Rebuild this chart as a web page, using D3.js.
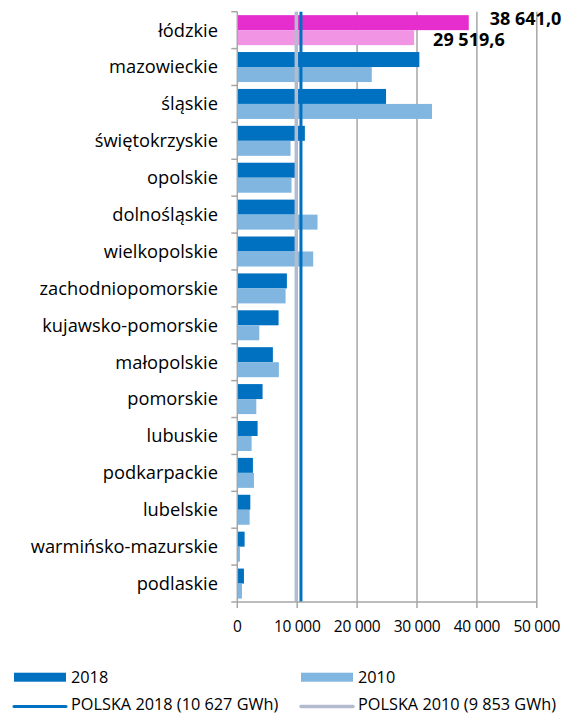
<!DOCTYPE html>
<html><head><meta charset="utf-8">
<script src="https://cdn.jsdelivr.net/npm/d3@7"></script>
<style>html,body{margin:0;padding:0;background:#fff;}svg{display:block;}</style>
</head><body>
<svg id="chart" width="564" height="714"></svg>
<script>
const categories = ["łódzkie","mazowieckie","śląskie","świętokrzyskie","opolskie","dolnośląskie","wielkopolskie","zachodniopomorskie","kujawsko-pomorskie","małopolskie","pomorskie","lubuskie","podkarpackie","lubelskie","warmińsko-mazurskie","podlaskie"];
const values2018 = [38641.0,30390,24830,11280,9650,9700,9650,8280,6890,5940,4220,3390,2610,2170,1220,1110];
const values2010 = [29519.6,22450,32500,8890,9050,13390,12670,8060,3670,6940,3170,2390,2780,2060,440,780];
const series = ["2018","2010"];
const polska2018 = 10627;
const polska2010 = 9853;
const xTicks = [0,10000,20000,30000,40000,50000];
const tickLabels = ["0","10 000","20 000","30 000","40 000","50 000"];
const valueLabels = ["38 641,0","29 519,6"];
const legendLabels = ["2018","2010","POLSKA 2018 (10 627 GWh)","POLSKA 2010 (9 853 GWh)"];

const colors = {"2018":"#0070c0","2010":"#80b6e0"};
const highlight = {"2018":"#e62dce","2010":"#f294e4"};
const lineCol2018 = "#0070c0", lineCol2010 = "#b3bccf";
const gridCol = "#a6a6a6";
const font = "'Open Sans', sans-serif";

const svg = d3.select("#chart");
const x = d3.scaleLinear().domain([0,50000]).range([237.3,536.8]);
const y = d3.scaleBand().domain(categories).range([11.7,602]).padding(0);
const ys = d3.scaleBand().domain(series).range([0,y.bandwidth()]).paddingInner(0).paddingOuter(0.23);

// gridlines
svg.append("g").selectAll("line").data(xTicks.slice(1)).join("line")
  .attr("x1",d=>x(d)).attr("x2",d=>x(d)).attr("y1",y.range()[0]).attr("y2",y.range()[1])
  .attr("stroke",gridCol).attr("stroke-width",1.5);

// bars
const rows = categories.map((c,i)=>({c,i,v:{"2018":values2018[i],"2010":values2010[i]}}));
const g = svg.append("g");
rows.forEach(r=>{
  series.forEach(s=>{
    g.append("rect")
      .attr("x",x(0)).attr("y",y(r.c)+ys(s))
      .attr("width",x(r.v[s])-x(0)).attr("height",ys.bandwidth())
      .attr("fill", r.i===0 ? highlight[s] : colors[s]);
  });
});

// Polska lines
svg.append("line").attr("x1",x(polska2010)).attr("x2",x(polska2010))
  .attr("y1",y.range()[0]).attr("y2",y.range()[1]).attr("stroke",lineCol2010).attr("stroke-width",3.5);
svg.append("line").attr("x1",x(polska2018)).attr("x2",x(polska2018))
  .attr("y1",y.range()[0]).attr("y2",y.range()[1]).attr("stroke",lineCol2018).attr("stroke-width",3);

// y axis
const yAxisG = svg.append("g");
yAxisG.append("line").attr("x1",x(0)).attr("x2",x(0)).attr("y1",y.range()[0]).attr("y2",y.range()[1])
  .attr("stroke",gridCol).attr("stroke-width",1.5);
const bounds = categories.map(c=>y(c)).concat([y.range()[1]]);
yAxisG.selectAll("line.t").data(bounds).join("line").attr("class","t")
  .attr("x1",x(0)-6).attr("x2",x(0)).attr("y1",d=>d).attr("y2",d=>d)
  .attr("stroke",gridCol).attr("stroke-width",1.5);
yAxisG.selectAll("text").data(categories).join("text")
  .attr("x",218).attr("y",d=>y(d)+y.bandwidth()/2).attr("dy","0.35em")
  .attr("text-anchor","end").attr("font-family",font).attr("font-size",18.3).attr("fill","#000")
  .text(d=>d);

// x axis
const xAxisG = svg.append("g");
xAxisG.append("line").attr("x1",x(0)).attr("x2",x(50000)).attr("y1",602).attr("y2",602)
  .attr("stroke",gridCol).attr("stroke-width",1.5);
xAxisG.selectAll("line.t").data(xTicks).join("line").attr("class","t")
  .attr("x1",d=>x(d)).attr("x2",d=>x(d)).attr("y1",602).attr("y2",608)
  .attr("stroke",gridCol).attr("stroke-width",1.5);
xAxisG.selectAll("text").data(xTicks).join("text")
  .attr("x",d=>x(d)).attr("y",627).attr("dy","0.35em").attr("text-anchor","middle")
  .attr("font-family",font).attr("font-size",15.5).attr("letter-spacing","-0.3").attr("fill","#000")
  .text((d,i)=>tickLabels[i]);

// value labels
[values2018[0],values2010[0]].forEach((v,i)=>{
  const s = series[i];
  svg.append("text").attr("x",x(v)+(i===0?21:19)).attr("y",y(categories[0])+ys(s)+ys.bandwidth()/2 - (i===0?4:-2))
    .attr("dy","0.35em").attr("font-family",font).attr("font-weight","bold").attr("font-size",18)
    .attr("fill","#000").text(valueLabels[i]);
});

// legend
const leg = svg.append("g");
const legX = [14,301], legTX = [71,358];
series.forEach((s,i)=>{
  leg.append("rect").attr("x",legX[i]).attr("y",672.7).attr("width",52).attr("height",9).attr("fill",colors[s]);
  leg.append("text").attr("x",legTX[i]).attr("y",677).attr("dy","0.35em").attr("font-family",font)
    .attr("font-size",16.3).attr("fill","#000").text(legendLabels[i]);
});
[lineCol2018,lineCol2010].forEach((c,i)=>{
  leg.append("line").attr("x1",legX[i]).attr("x2",legX[i]+52).attr("y1",706.5).attr("y2",706.5)
    .attr("stroke",c).attr("stroke-width",i===0?3:3.5).attr("stroke-linecap","round");
  leg.append("text").attr("x",legTX[i]).attr("y",704.5).attr("dy","0.35em").attr("font-family",font)
    .attr("font-size",16.3).attr("fill","#000").text(legendLabels[i+2]);
});
</script>
</body></html>
